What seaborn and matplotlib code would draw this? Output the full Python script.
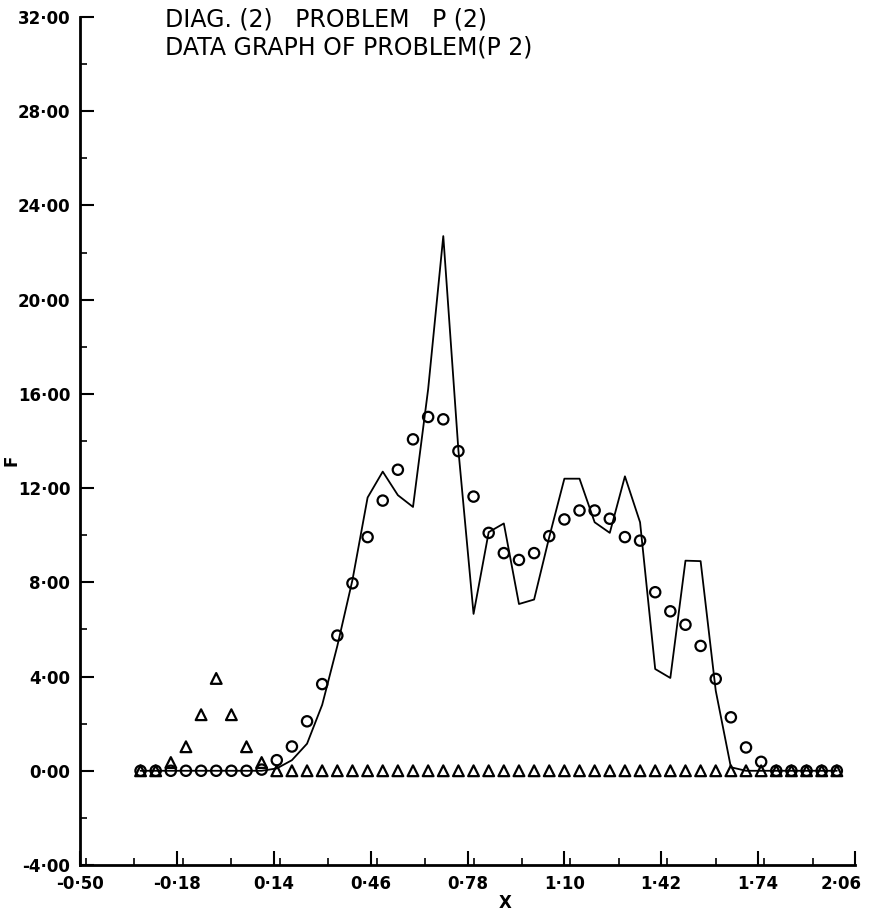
import numpy as np
import pandas as pd
import matplotlib
matplotlib.use("Agg")
import matplotlib.pyplot as plt
import matplotlib.transforms as mtransforms
import seaborn as sns
from matplotlib.ticker import MultipleLocator, FixedLocator

# ---- data ----
x_vals = [-0.30, -0.25, -0.20, -0.15, -0.10, -0.05, 0.00, 0.05, 0.10, 0.15,
          0.20, 0.25, 0.30, 0.35, 0.40, 0.45, 0.50, 0.55, 0.60, 0.65,
          0.70, 0.75, 0.80, 0.85, 0.90, 0.95, 1.00, 1.05, 1.10, 1.15,
          1.20, 1.25, 1.30, 1.35, 1.40, 1.45, 1.50, 1.55, 1.60, 1.65,
          1.70, 1.75, 1.80, 1.85, 1.90, 1.95, 2.00]

data_circles = [0, 0, 0, 0, 0, 0, 0, 0, 0.05, 0.45,
                1.03, 2.10, 3.68, 5.74, 7.96, 9.92, 11.47, 12.78, 14.07, 15.02,
                14.92, 13.57, 11.64, 10.10, 9.24, 8.95, 9.24, 9.96, 10.67, 11.05,
                11.05, 10.70, 9.92, 9.77, 7.58, 6.77, 6.20, 5.30, 3.90, 2.27,
                0.99, 0.38, 0, 0, 0, 0, 0]

data_triangles = [0, 0, 0.35, 1.02, 2.38, 3.92, 2.38, 1.02, 0.35, 0,
                  0, 0, 0, 0, 0, 0, 0, 0, 0, 0,
                  0, 0, 0, 0, 0, 0, 0, 0, 0, 0,
                  0, 0, 0, 0, 0, 0, 0, 0, 0, 0,
                  0, 0, 0, 0, 0, 0, 0]

fit_line = [0, 0, 0, 0, 0, 0, 0, 0, 0, 0.10,
            0.45, 1.15, 2.80, 5.30, 8.10, 11.60, 12.70, 11.70, 11.20, 16.20,
            22.70, 13.60, 6.66, 10.13, 10.50, 7.08, 7.27, 9.92, 12.40, 12.40,
            10.55, 10.10, 12.50, 10.55, 4.32, 3.94, 8.92, 8.90, 3.40, 0.15,
            0, 0, 0, 0, 0, 0, 0]

x_ticks = [-0.50, -0.18, 0.14, 0.46, 0.78, 1.10, 1.42, 1.74, 2.06]
x_tick_labels = ["-0·50", "-0·18", "0·14", "0·46", "0·78", "1·10", "1·42", "1·74", "2·06"]
y_ticks = [-4, 0, 4, 8, 12, 16, 20, 24, 28, 32]
y_tick_labels = ["-4·00", "0·00", "4·00", "8·00", "12·00", "16·00", "20·00", "24·00", "28·00", "32·00"]

title_line1 = "DIAG. (2)   PROBLEM   P (2)"
title_line2 = "DATA GRAPH OF PROBLEM(P 2)"

df = pd.DataFrame({"X": x_vals, "F": data_circles, "T": data_triangles, "L": fit_line})

# ---- style ----
sns.set_style("ticks")
plt.rcParams["font.family"] = ["DejaVu Sans"]
plt.rcParams["text.color"] = "black"
plt.rcParams["xtick.color"] = "black"
plt.rcParams["ytick.color"] = "black"
plt.rcParams["axes.labelcolor"] = "black"

fig = plt.figure(figsize=(8.73, 9.17), dpi=100)
ax = fig.add_axes([80 / 873, 1 - 865 / 917, (855 - 80) / 873, (865 - 17) / 917])

sns.lineplot(data=df, x="X", y="L", ax=ax, color="black", linewidth=1.3, zorder=2)
sns.scatterplot(data=df, x="X", y="F", ax=ax, marker="o", s=55,
                facecolors="none", edgecolor="black", linewidth=1.6, zorder=3)
sns.scatterplot(data=df, x="X", y="T", ax=ax, marker="^", s=60,
                facecolors="none", edgecolor="black", linewidth=1.6, zorder=3)

ax.set_xlim(-0.50, 2.06)
ax.set_ylim(-4, 32)
ax.xaxis.set_major_locator(FixedLocator(x_ticks))
ax.xaxis.set_minor_locator(MultipleLocator(0.16))
ax.yaxis.set_major_locator(FixedLocator(y_ticks))
ax.yaxis.set_minor_locator(MultipleLocator(2))
ax.set_xticklabels(x_tick_labels, fontsize=12, fontweight="bold")
ax.set_yticklabels(y_tick_labels, fontsize=12, fontweight="bold")
ax.tick_params(axis="both", which="major", direction="in", length=10, width=1.5, pad=7, color="black")
ax.tick_params(axis="both", which="minor", direction="in", length=5, width=1.2, color="black")

# keep the last x tick label inside the figure
last = ax.get_xticklabels()[-1]
last.set_transform(last.get_transform() +
                   mtransforms.ScaledTranslation(-14 / 100, 0, fig.dpi_scale_trans))

for side in ["top", "right"]:
    ax.spines[side].set_visible(False)
for side in ["left", "bottom"]:
    ax.spines[side].set_linewidth(2)
    ax.spines[side].set_color("black")

ax.set_xlabel("")
ax.set_ylabel("")
fig.text(505 / 873, 1 - 903 / 917, "X", fontsize=12, fontweight="bold", ha="center", va="center")
fig.text(12 / 873, 1 - 460 / 917, "F", fontsize=12, fontweight="bold", ha="center", va="center",
         rotation=90)

fig.text(165 / 873, 1 - 19 / 917, title_line1, fontsize=17, ha="left", va="center")
fig.text(165 / 873, 1 - 48 / 917, title_line2, fontsize=17, ha="left", va="center")

fig.savefig("out.png", dpi=100)
